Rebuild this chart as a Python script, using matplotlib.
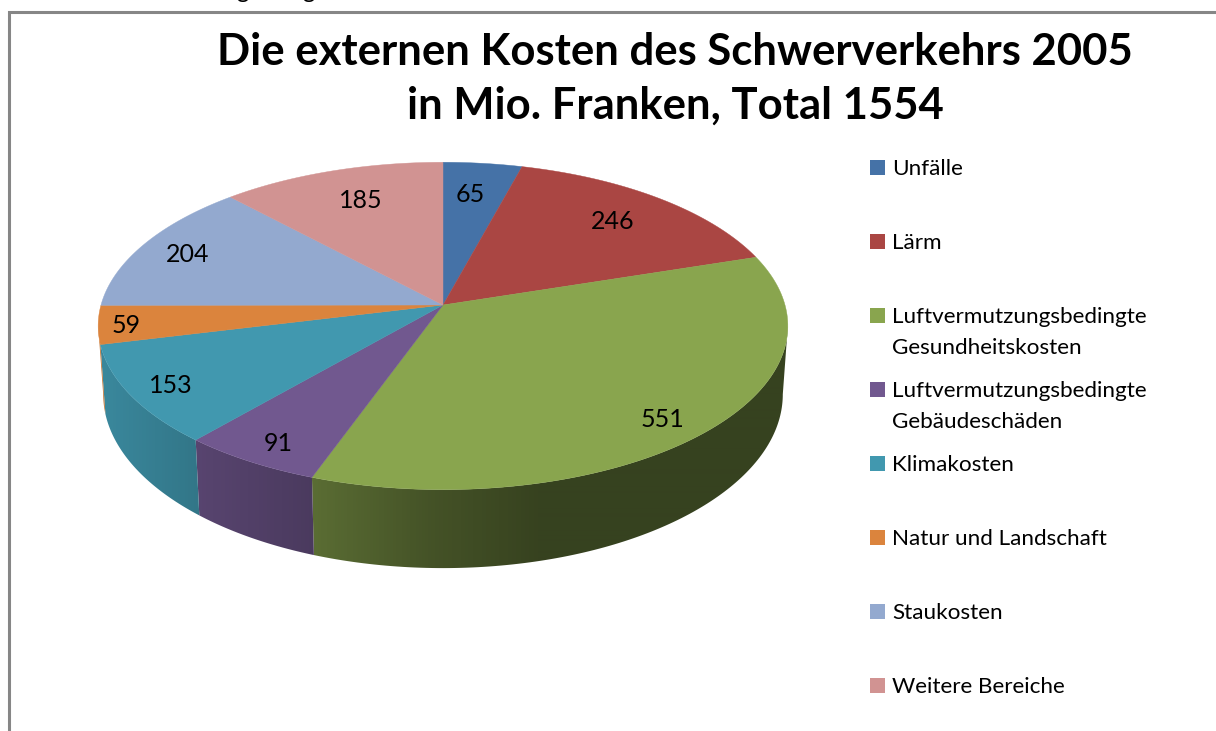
import numpy as np
import matplotlib
matplotlib.use("Agg")
import matplotlib.pyplot as plt
from matplotlib.colors import ListedColormap, to_rgb
from matplotlib.patches import Polygon, Rectangle

plt.rcParams['font.family'] = ['Lato', 'DejaVu Sans']

categories = ["Unfälle", "Lärm", "Luftvermutzungsbedingte\nGesundheitskosten",
              "Luftvermutzungsbedingte\nGebäudeschäden", "Klimakosten",
              "Natur und Landschaft", "Staukosten", "Weitere Bereiche"]
values = [65, 246, 551, 91, 153, 59, 204, 185]
colors = ["#4572A7", "#AA4643", "#89A54E", "#71588F", "#4198AF", "#DB843D", "#93A9CF", "#D19392"]
label_radius = [0.77, 0.78, 0.87, 0.88, 0.88, 0.92, 0.85, 0.77]
label_turn = [-1, -0.5, 1.5, -0.7, 0, 0, 0, 1.5]
title = "Die externen Kosten des Schwerverkehrs 2005\nin Mio. Franken, Total 1554"

# perspective of the pie, in pixels
CX = 443
TOP = (305, 342, 161)     # cy, rx, ry of the upper face
BOTTOM = (372, 337, 171)  # same for the lower rim
K = 0.128

# brightness of the side wall, going left to right
SHADE_X = [95, 195, 312, 430, 540, 790]
SHADE = [0.90, 0.78, 0.66, 0.50, 0.40, 0.40]


def project(theta, r, plane):
    cy, rx, ry = plane
    t = np.radians(theta)
    u = r * np.sin(t)
    v = r * np.cos(t)
    d = 1 + K * v
    return CX + rx * u / d, cy - ry * v / d


fig = plt.figure(figsize=(12.16, 7.31), dpi=100)
ax = fig.add_axes([0, 0, 1, 1])
ax.axis("off")

# frame of the chart, cut by the screenshot
ax.plot([8.5, 8.5, 1216], [731, 11.5, 11.5], color="#868686", lw=2.2, solid_joinstyle="miter")

# the line of text above the chart is cut off, only two descenders are left
for gx in [242, 308]:
    ax.text(gx, -2, "g", fontsize=17, ha="center", va="baseline", color="black")

edges = np.cumsum([0] + values) / sum(values) * 360
xs = np.arange(90, 800)
ramp = np.interp(xs, SHADE_X, SHADE)[None, :]

# where the rim turns out of sight
tangent = np.degrees(np.arccos(-K))

# side wall: a gradient image clipped to each slice's rim
for i in range(len(values)):
    lo = max(edges[i], tangent)
    hi = min(edges[i + 1], 360 - tangent)
    if hi <= lo:
        continue
    th = np.linspace(lo, hi, 120)
    x1, y1 = project(th, 1, TOP)
    x2, y2 = project(th[::-1], 1, BOTTOM)
    rim = Polygon(np.c_[np.r_[x1, x2], np.r_[y1, y2]], transform=ax.transData, fc="none", ec="none")
    ax.add_patch(rim)
    base = np.array(to_rgb(colors[i]))
    cmap = ListedColormap(np.linspace(0, 1, 256)[:, None] * base)
    im = ax.imshow(ramp, extent=(90, 800, 600, 250), cmap=cmap, vmin=0, vmax=1,
                   aspect="auto", interpolation="bilinear")
    im.set_clip_path(rim)

ax.set_xlim(0, 1216)
ax.set_ylim(731, 0)

# upper face
for i in range(len(values)):
    th = np.linspace(edges[i], edges[i + 1], 120)
    x, y = project(th, 1, TOP)
    ax.fill(np.r_[CX, x], np.r_[TOP[0], y], color=colors[i], lw=0.3)

    mid = (edges[i] + edges[i + 1]) / 2 + label_turn[i]
    lx, ly = project(mid, label_radius[i], TOP)
    ax.text(lx, ly + 2, str(values[i]), fontsize=18, ha="center", va="center", color="black")

# legend
for i, cat in enumerate(categories):
    y = 167 + i * 74
    ax.add_patch(Rectangle((870, y - 7.5), 15, 15, color=colors[i], lw=0))
    ax.text(892, y - 8, cat, fontsize=16.2, ha="left", va="top", color="black", linespacing=1.68)

ax.text(675, 79, title, fontsize=31.4, fontweight="bold", ha="center", va="center", linespacing=1.4)

fig.savefig("out.png", dpi=100)
